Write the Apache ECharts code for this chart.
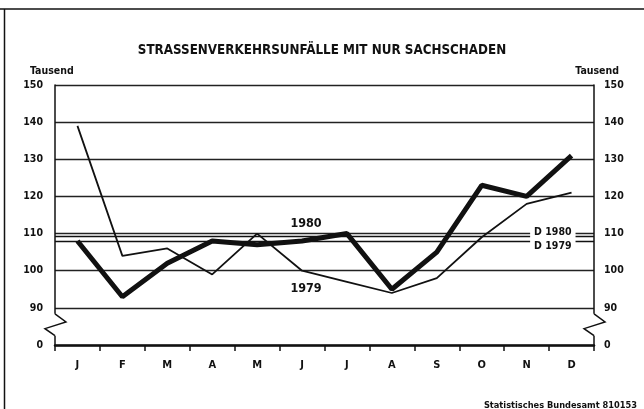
<!DOCTYPE html>
<html>
<head>
<meta charset="utf-8">
<script src="https://cdn.jsdelivr.net/npm/echarts@6/dist/echarts.min.js"></script>
<style>
  html, body { margin: 0; padding: 0; background: #fff; }
  #chart { width: 644px; height: 409px; }
</style>
</head>
<body>
<div id="chart"></div>
<script>
// Monate
const months = ['J', 'F', 'M', 'A', 'M', 'J', 'J', 'A', 'S', 'O', 'N', 'D'];
// Unfälle mit nur Sachschaden, Tausend
const values1980 = [108, 93, 102, 108, 107, 108, 110, 95, 105, 123, 120, 131];
const values1979 = [139, 104, 106, 99, 110, 100, 97, 94, 98, 109, 118, 121];
// Durchschnitt (D)
const avg1980 = 109.2;
const avg1979 = 107.9;
// Achse: unterster Wert wird als 0 beschriftet (Achsenbruch)
const yTicks = [80, 90, 100, 110, 120, 130, 140, 150];

const font = "'Liberation Sans Narrow', 'DejaVu Sans Condensed', sans-serif";
const ink = '#111';

const chart = echarts.init(document.getElementById('chart'));

const axisLabel = {
  color: ink,
  fontFamily: font,
  fontWeight: 'bold',
  fontSize: 10.5,
  formatter: (v) => (v === yTicks[0] ? '0' : String(v))
};

// unsichtbarer Punkt, nur als Träger für Beschriftungen
const hiddenSymbol = {
  symbol: 'circle',
  symbolSize: 1,
  itemStyle: { color: 'rgba(0,0,0,0)' }
};

const option = {
  animation: false,
  backgroundColor: '#fff',
  title: [
    {
      text: 'STRASSENVERKEHRSUNFÄLLE MIT NUR SACHSCHADEN',
      left: 'center',
      top: 39,
      textStyle: { color: ink, fontFamily: font, fontWeight: 'bold', fontSize: 13.3 }
    },
    {
      text: 'Tausend',
      left: 25,
      top: 61,
      textStyle: { color: ink, fontFamily: font, fontWeight: 'bold', fontSize: 10.5 }
    },
    {
      text: 'Tausend',
      right: 20,
      top: 61,
      textStyle: { color: ink, fontFamily: font, fontWeight: 'bold', fontSize: 10.5 }
    },
    {
      text: 'Statistisches Bundesamt 810153',
      right: 2,
      top: 396,
      textStyle: { color: ink, fontFamily: font, fontWeight: 'bold', fontSize: 9.2 }
    }
  ],
  grid: { left: 55, right: 50, top: 85, bottom: 64 },
  xAxis: {
    type: 'category',
    data: months,
    boundaryGap: true,
    axisLine: { lineStyle: { color: ink, width: 2.5 } },
    axisTick: { show: true, length: 6, lineStyle: { color: ink, width: 1.5 } },
    axisLabel: { color: ink, fontFamily: font, fontWeight: 'bold', fontSize: 11, margin: 15 },
    splitLine: { show: false }
  },
  yAxis: [
    {
      type: 'value',
      min: 80,
      max: 150,
      interval: 10,
      position: 'left',
      axisLine: { show: true, lineStyle: { color: ink, width: 1.5 } },
      axisTick: { show: false },
      axisLabel: Object.assign({ margin: 12 }, axisLabel),
      splitLine: { show: true, lineStyle: { color: '#222', width: 1.3 } }
    },
    {
      type: 'value',
      min: 80,
      max: 150,
      interval: 10,
      position: 'right',
      axisLine: { show: true, lineStyle: { color: ink, width: 1.5 } },
      axisTick: { show: false },
      axisLabel: Object.assign({ margin: 10 }, axisLabel),
      splitLine: { show: false }
    }
  ],
  series: [
    {
      name: '1979',
      type: 'line',
      data: values1979,
      symbol: 'none',
      z: 3,
      lineStyle: { color: ink, width: 1.8 },
      markLine: {
        silent: true,
        symbol: 'none',
        lineStyle: { color: ink, width: 1.3, type: 'solid' },
        label: { show: false },
        data: [{ yAxis: avg1979 }]
      },
      markPoint: Object.assign({}, hiddenSymbol, {
        label: {
          show: true,
          position: 'inside',
          formatter: '1979',
          color: ink,
          fontFamily: font,
          fontWeight: 'bold',
          fontSize: 12.5,
          offset: [4, 0]
        },
        data: [{ coord: [5, 95.2] }]
      })
    },
    {
      name: '1980',
      type: 'line',
      data: values1980,
      symbol: 'none',
      z: 4,
      lineStyle: { color: ink, width: 5 },
      markLine: {
        silent: true,
        symbol: 'none',
        lineStyle: { color: ink, width: 1.3, type: 'solid' },
        label: { show: false },
        data: [{ yAxis: avg1980 }]
      },
      markPoint: Object.assign({}, hiddenSymbol, {
        label: {
          show: true,
          position: 'inside',
          color: ink,
          fontFamily: font,
          fontWeight: 'bold',
          fontSize: 12.5
        },
        data: [
          { coord: [5, 112.6], label: { formatter: '1980', offset: [4, 0] } },
          {
            coord: [11, avg1980],
            label: {
              formatter: 'D 1980',
              fontSize: 10.5,
              lineHeight: 12,
              align: 'right',
              verticalAlign: 'middle',
              backgroundColor: '#fff',
              padding: [1, 4, 1, 4],
              offset: [4, -4.3]
            }
          },
          {
            coord: [11, avg1979],
            label: {
              formatter: 'D 1979',
              fontSize: 10.5,
              lineHeight: 12,
              align: 'right',
              verticalAlign: 'middle',
              backgroundColor: '#fff',
              padding: [1, 4, 1, 4],
              offset: [4, 4.5]
            }
          }
        ]
      })
    }
  ]
};

chart.setOption(option);

// Achsenbruch (Zickzack) zwischen 0 und 90 an beiden Achsen
function breakMark(xPix) {
  const yTop = chart.convertToPixel({ yAxisIndex: 0 }, 88.4);
  const yMid1 = chart.convertToPixel({ yAxisIndex: 0 }, 86.2);
  const yMid2 = chart.convertToPixel({ yAxisIndex: 0 }, 84.4);
  const yBot = chart.convertToPixel({ yAxisIndex: 0 }, 82.5);
  return [
    {
      type: 'rect',
      z: 100,
      shape: { x: xPix - 2, y: yTop, width: 4, height: yBot - yTop },
      style: { fill: '#fff' }
    },
    {
      type: 'polyline',
      z: 101,
      shape: { points: [[xPix, yTop], [xPix + 11, yMid1], [xPix - 10, yMid2], [xPix, yBot]] },
      style: { stroke: ink, lineWidth: 1.5, fill: null }
    }
  ];
}

const xLeft = chart.convertToPixel({ xAxisIndex: 0 }, 0) - 22.5;
const xRight = chart.convertToPixel({ xAxisIndex: 0 }, 11) + 22.5;

chart.setOption({
  graphic: [
    // Rahmen
    { type: 'line', shape: { x1: 0, y1: 9, x2: 644, y2: 9 }, style: { stroke: ink, lineWidth: 1.5 } },
    { type: 'line', shape: { x1: 4.5, y1: 9, x2: 4.5, y2: 409 }, style: { stroke: ink, lineWidth: 1.5 } }
  ].concat(breakMark(xLeft), breakMark(xRight))
});
</script>
</body>
</html>
